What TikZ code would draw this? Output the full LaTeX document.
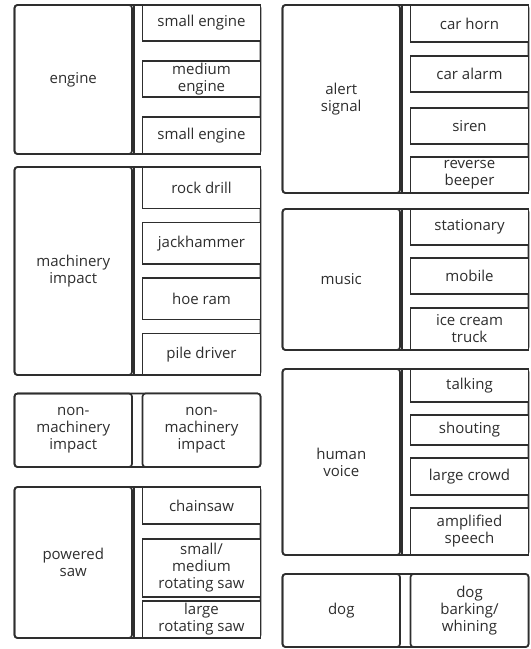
\documentclass[tikz,border=0pt]{standalone}
\usepackage{fontspec}
\setmainfont{Open Sans}
\usetikzlibrary{positioning}
\definecolor{linegray}{HTML}{2E2E2E}
\tikzstyle{group} = [rectangle, rounded corners=3pt,
anchor=north west,
minimum width=246pt,
outer sep=0pt,
draw=linegray, line width=1.7pt]
\tikzstyle{category} = [rectangle, rounded corners=3pt,
anchor=north west,
minimum width=117.5pt,
outer sep=0pt,
align=center,
font=\fontsize{15}{17}\selectfont,
text=linegray,
draw=linegray, line width=1.7pt]
\tikzstyle{sound} = [rectangle,
anchor=north east,
minimum width=118pt,
minimum height=36pt,
inner sep=2pt, outer sep=0pt,
align=center,
font=\fontsize{15}{17}\selectfont,
text=linegray,
draw=linegray, line width=1.7pt, fill=white]
\tikzstyle{column} = [draw=linegray, line width=1.7pt]

\begin{document}
\begin{tikzpicture}[x=1pt, y=-1pt]
            \useasboundingbox (0,0) rectangle (531,649);
            % left column
            \node (eng) [group, minimum height=149pt] at (14.5,5) {};
            \node (engCat) [category, minimum height=149pt] at (eng.north west) {engine};
            \draw [column] ([xshift=2pt]engCat.north east) rectangle (eng.south east);
            \node (engSmall) [sound] at (eng.north east) {small engine};
            \node (engMedium) [sound, below=20pt of engSmall] {medium\\ engine};
            \node (engSmallB) [sound, minimum height=37pt, below=20pt of engMedium] {small engine};

            \node (mach) [group, minimum height=208pt] at (14.5,167) {};
            \node (machCat) [category, minimum height=208pt] at (mach.north west) {machinery\\ impact};
            \draw [column] ([xshift=2pt]machCat.north east) rectangle (mach.south east);
            \node (machDrill) [sound, minimum height=41.5pt] at (mach.north east) {rock drill};
            \node (machJack) [sound, minimum height=41.5pt, below=14pt of machDrill] {jackhammer};
            \node (machHoe) [sound, minimum height=41.5pt, below=14pt of machJack] {hoe ram};
            \node (machPile) [sound, minimum height=41.5pt, below=14pt of machHoe] {pile driver};

            \node (nonm) [group, minimum height=73.5pt] at (14.5,393.5) {};
            \node (nonmCat) [category, minimum height=73.5pt] at (nonm.north west) {non-\\ machinery\\ impact};
            \node (nonmImpact) [sound, rounded corners=3pt, minimum height=73.5pt] at (nonm.north east) {non-\\ machinery\\ impact};

            \node (saw) [group, minimum height=151pt] at (14.5,487) {};
            \node (sawCat) [category, minimum height=151pt] at (saw.north west) {powered\\ saw};
            \draw [column] ([xshift=2pt]sawCat.north east) rectangle (saw.south east);
            \node (sawChain) [sound, minimum height=37pt] at (saw.north east) {chainsaw};
            \node (sawSmall) [sound, minimum height=58pt, below=15pt of sawChain] {small/\\ medium\\ rotating saw};
            \node (sawLarge) [sound, minimum height=37pt, below=4pt of sawSmall] {large\\ rotating saw};

            % right column
            \node (alert) [group, minimum height=188pt] at (282.5,5) {};
            \node (alertCat) [category, minimum height=188pt] at (alert.north west) {alert\\ signal};
            \draw [column] ([xshift=2pt]alertCat.north east) rectangle (alert.south east);
            \node (alertHorn) [sound, minimum height=37pt] at (alert.north east) {car horn};
            \node (alertAlarm) [sound, below=14pt of alertHorn] {car alarm};
            \node (alertSiren) [sound, below=16pt of alertAlarm] {siren};
            \node (alertBeeper) [sound, below=13pt of alertSiren] {reverse\\ beeper};

            \node (music) [group, minimum height=141pt] at (282.5,209) {};
            \node (musicCat) [category, minimum height=141pt] at (music.north west) {music};
            \draw [column] ([xshift=2pt]musicCat.north east) rectangle (music.south east);
            \node (musicStat) [sound] at (music.north east) {stationary};
            \node (musicMob) [sound, below=13pt of musicStat] {mobile};
            \node (musicTruck) [sound, minimum height=42pt, below=14pt of musicMob] {ice cream\\ truck};

            \node (voice) [group, minimum height=186pt] at (282.5,369) {};
            \node (voiceCat) [category, minimum height=186pt] at (voice.north west) {human\\ voice};
            \draw [column] ([xshift=2pt]voiceCat.north east) rectangle (voice.south east);
            \node (voiceTalk) [sound, minimum height=33pt] at (voice.north east) {talking};
            \node (voiceShout) [sound, minimum height=30pt, below=13pt of voiceTalk] {shouting};
            \node (voiceCrowd) [sound, minimum height=37pt, below=13pt of voiceShout] {large crowd};
            \node (voiceSpeech) [sound, minimum height=47pt, below=13pt of voiceCrowd] {amplified\\ speech};

            \node (dog) [group, minimum height=73pt] at (282.5,574) {};
            \node (dogCat) [category, minimum height=73pt] at (dog.north west) {dog};
            \node (dogBark) [sound, rounded corners=3pt, minimum height=73pt] at (dog.north east) {dog\\ barking/\\ whining};
        \end{tikzpicture}
\end{document}
